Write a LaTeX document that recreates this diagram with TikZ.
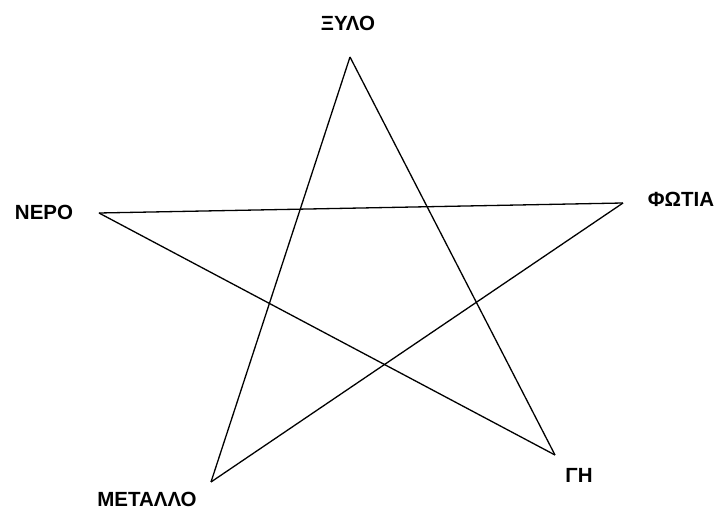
\documentclass[tikz,border=0pt]{standalone}
\usepackage{fontspec}
\setmainfont{Liberation Sans}
\usepackage{tikz}

\tikzset{
  element/.style={font=\bfseries\fontsize{20.5}{24}\selectfont, inner sep=0pt},
  edge/.style={black, line width=1.3pt}
}

\begin{document}
\begin{tikzpicture}[x=1pt, y=-1pt]
			\useasboundingbox (0,0) rectangle (716,518);

			% vertices of the star
			\coordinate (wood)  at (350, 57);
			\coordinate (fire)  at (623, 203);
			\coordinate (earth) at (555, 455);
			\coordinate (metal) at (211, 482);
			\coordinate (water) at (99,  213);

			% the five strokes
			\draw[edge] (wood) -- (metal);
			\draw[edge] (wood) -- (earth);
			\draw[edge] (water) -- (fire);
			\draw[edge] (water) -- (earth);
			\draw[edge] (fire) -- (metal);

			% labels
			\node[element] (woodlabel)  at (348, 23)  {ΞΥΛΟ};
			\node[element] (firelabel)  at (681, 199) {ΦΩΤΙΑ};
			\node[element] (earthlabel) at (579, 475) {ΓΗ};
			\node[element] (metallabel) at (147, 499) {ΜΕΤΑΛΛΟ};
			\node[element] (waterlabel) at (44,  212) {ΝΕΡΟ};

		\end{tikzpicture}
\end{document}
